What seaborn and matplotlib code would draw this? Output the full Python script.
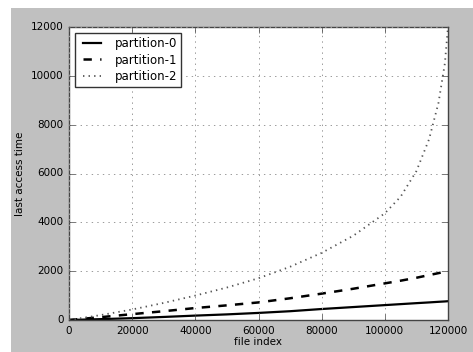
import matplotlib
matplotlib.use('Agg')
import matplotlib.pyplot as plt
import matplotlib.patches as mpatches
import seaborn as sns
import pandas as pd

# ─── Data ─────────────────────────────────────────────────────────────────────
file_index = [0, 10000, 20000, 30000, 40000, 50000, 60000, 70000, 80000,
              90000, 100000, 105000, 110000, 114000, 117000, 119000, 120000]
partition_0 = [0, 35, 75, 125, 180, 230, 290, 360, 450,
               530, 610, 650, 690, 720, 745, 760, 770]
partition_1 = [0, 115, 240, 360, 490, 600, 720, 890, 1080,
               1280, 1500, 1610, 1730, 1840, 1920, 1975, 2000]
partition_2 = [0, 200, 430, 700, 1000, 1330, 1710, 2180, 2750,
               3450, 4370, 5050, 6100, 7400, 8900, 10500, 12000]

series = {'partition-0': partition_0,
          'partition-1': partition_1,
          'partition-2': partition_2}
styles = {'partition-0': dict(linestyle='-', linewidth=1.6, color='black'),
          'partition-1': dict(linestyle='--', linewidth=1.8, color='black'),
          'partition-2': dict(linestyle=':', linewidth=1.3, color='#555555')}

df = pd.DataFrame({'file index': file_index, **series})

# ─── Plot ─────────────────────────────────────────────────────────────────────
plt.style.use('classic')
plt.rcParams['font.family'] = ['DejaVu Sans']

fig = plt.figure(figsize=(4.73, 3.52), dpi=100, facecolor='white')
fig.patches.append(mpatches.Rectangle((11 / 473, 0), 1, 1 - 8 / 352,
                                      transform=fig.transFigure,
                                      facecolor='#c0c0c0', edgecolor='none',
                                      zorder=-10))
ax = fig.add_axes([69 / 473, 32 / 352, 379 / 473, 293 / 352])

for name in series:
    sns.lineplot(data=df, x='file index', y=name, ax=ax,
                 label=name, **styles[name])

ax.set_xlim(0, 120000)
ax.set_ylim(0, 12000)
ax.set_xticks(range(0, 120001, 20000))
ax.set_yticks(range(0, 12001, 2000))
ax.tick_params(labelsize=7.5, direction='in', length=4, color='#444444')
ax.set_xlabel('file index', fontsize=7.5, labelpad=1)
ax.set_ylabel('last access time', fontsize=7.5, labelpad=4)
ax.grid(True, linestyle=':', color='#999999', linewidth=0.7)
for sp in ax.spines.values():
    sp.set_color('#444444')

leg = ax.legend(loc='upper left', fontsize=8.5, frameon=True, fancybox=False,
                handlelength=2.2, borderpad=0.35, labelspacing=0.3)
leg.get_frame().set_edgecolor('#333333')

fig.savefig('out.png', dpi=100, facecolor=fig.get_facecolor())
